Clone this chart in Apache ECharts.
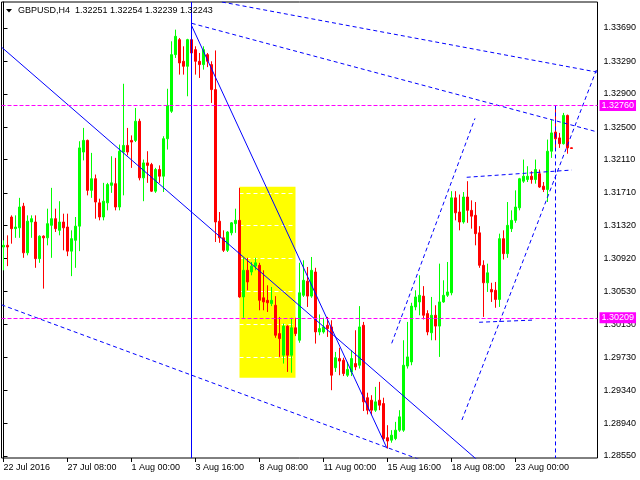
<!DOCTYPE html>
<html><head><meta charset="utf-8">
<script src="https://cdn.jsdelivr.net/npm/echarts@6/dist/echarts.min.js"></script>
<style>html,body{margin:0;padding:0;background:#fff}#c{width:640px;height:480px}</style>
</head><body><div id="c"></div>
<script>
const symbolName = 'GBPUSD', timeframe = 'H4';
const open = [1.3106,1.3108,1.3142,1.3128,1.3129,1.3155,1.3099,1.3136,1.3136,1.3092,
1.3119,1.3117,1.3132,1.3140,1.3126,1.3136,1.3130,1.3101,1.3114,1.3131,
1.3220,1.3234,1.3174,1.3188,1.3159,1.3142,1.3159,1.3180,1.3182,1.3154,
1.3220,1.3228,1.3234,1.3234,1.3257,1.3189,1.3207,1.3205,1.3173,1.3199,
1.3191,1.3236,1.3269,1.3337,1.3355,1.3329,1.3323,1.3355,1.3343,1.3329,
1.3325,1.3337,1.3325,1.3295,1.3137,1.3117,1.3102,1.3123,1.3134,1.3138,
1.3046,1.3078,1.3076,1.3083,1.3084,1.3045,1.3042,1.3038,1.3036,1.3002,
1.2976,1.3011,1.2976,1.3009,1.2994,1.3048,1.3065,1.3047,1.3076,1.3004,
1.3004,1.3012,1.3010,1.2961,1.2972,1.2970,1.2952,1.2956,1.2966,1.2964,
1.3012,1.2925,1.2922,1.2910,1.2922,1.2918,1.2877,1.2874,1.2876,1.2886,
1.2886,1.2963,1.2968,1.3034,1.3040,1.3047,1.3026,1.3003,1.3024,1.3011,
1.3040,1.3048,1.3051,1.3165,1.3148,1.3136,1.3166,1.3150,1.3144,1.3123,
1.3084,1.3063,1.3055,1.3054,1.3043,1.3116,1.3098,1.3128,1.3138,1.3153,
1.3185,1.3187,1.3191,1.3187,1.3194,1.3179,1.3175,1.3221,1.3244,1.3237,
1.3230,1.3264,1.32251];
const close = [1.3108,1.3106,1.3128,1.3130,1.3154,1.3099,1.3137,1.3140,1.3092,1.3119,
1.3117,1.3134,1.3140,1.3128,1.3136,1.3129,1.3101,1.3116,1.3131,1.3225,
1.3234,1.3174,1.3188,1.3160,1.3142,1.3161,1.3181,1.3183,1.3154,1.3221,
1.3228,1.3220,1.3232,1.3257,1.3189,1.3207,1.3204,1.3173,1.3199,1.3191,
1.3236,1.3276,1.3337,1.3359,1.3327,1.3323,1.3355,1.3339,1.3329,1.3325,
1.3343,1.3329,1.3295,1.3136,1.3117,1.3102,1.3124,1.3135,1.3138,1.3046,
1.3078,1.3064,1.3083,1.3087,1.3042,1.3040,1.3039,1.3042,1.3000,1.2996,
1.3011,1.2976,1.3009,1.3002,1.3051,1.3066,1.3047,1.3078,1.3004,1.3008,
1.3010,1.3008,1.2952,1.2973,1.2969,1.2954,1.2959,1.2972,1.2962,1.3010,
1.2920,1.2910,1.2910,1.2920,1.2916,1.2876,1.2873,1.2880,1.2886,1.2902,
1.2964,1.2974,1.3035,1.3046,1.3048,1.3024,1.3004,1.3024,1.3011,1.3040,
1.3048,1.3052,1.3165,1.3147,1.3136,1.3166,1.3150,1.3143,1.3122,1.3084,
1.3063,1.3075,1.3052,1.3043,1.3116,1.3098,1.3132,1.3138,1.3154,1.3188,
1.3191,1.3191,1.3187,1.3199,1.3178,1.3175,1.3221,1.3243,1.3236,1.3230,
1.3264,1.3225,1.32243];
const low = [1.3078,1.3083,1.3110,1.3117,1.3117,1.3093,1.3096,1.3117,1.3081,1.3087,
1.3056,1.3108,1.3093,1.3124,1.3120,1.3102,1.3095,1.3071,1.3081,1.3101,
1.3210,1.3168,1.3165,1.3140,1.3138,1.3138,1.3150,1.3171,1.3150,1.3150,
1.3168,1.3216,1.3201,1.3232,1.3186,1.3161,1.3183,1.3172,1.3171,1.3183,
1.3172,1.3223,1.3267,1.3333,1.3313,1.3313,1.3287,1.3283,1.3313,1.3309,
1.3319,1.3322,1.3279,1.3112,1.3111,1.3100,1.3100,1.3120,1.3123,1.3045,
1.3021,1.3054,1.3072,1.3078,1.3030,1.3030,1.3028,1.3035,1.2997,1.2974,
1.2966,1.2956,1.2955,1.2999,1.2991,1.3046,1.3034,1.3045,1.2990,1.3000,
1.3002,1.2998,1.2934,1.2956,1.2952,1.2951,1.2950,1.2951,1.2958,1.2960,
1.2909,1.2905,1.2904,1.2908,1.2910,1.2873,1.2864,1.2871,1.2874,1.2884,
1.2884,1.2960,1.2964,1.3030,1.3024,1.3019,1.3000,1.2994,1.2994,1.2974,
1.3039,1.3046,1.3048,1.3138,1.3126,1.3134,1.3135,1.3128,1.3108,1.3081,
1.3022,1.3052,1.3040,1.3033,1.3034,1.3091,1.3093,1.3124,1.3135,1.3150,
1.3183,1.3184,1.3182,1.3182,1.3177,1.3172,1.3160,1.3213,1.3225,1.3225,
1.3229,1.3218,1.32239];
const high = [1.3114,1.3120,1.3144,1.3144,1.3165,1.3159,1.3144,1.3144,1.3144,1.3120,
1.3120,1.3152,1.3177,1.3152,1.3161,1.3146,1.3146,1.3126,1.3142,1.3233,
1.3249,1.3235,1.3219,1.3193,1.3164,1.3183,1.3183,1.3215,1.3213,1.3229,
1.3302,1.3249,1.3240,1.3273,1.3260,1.3211,1.3221,1.3207,1.3201,1.3204,
1.3239,1.3296,1.3353,1.3367,1.3357,1.3347,1.3356,1.3357,1.3347,1.3339,
1.3347,1.3339,1.3329,1.3342,1.3148,1.3126,1.3125,1.3136,1.3152,1.3177,
1.3093,1.3093,1.3088,1.3093,1.3087,1.3078,1.3060,1.3058,1.3047,1.3022,
1.3014,1.3012,1.3021,1.3021,1.3087,1.3090,1.3082,1.3094,1.3081,1.3025,
1.3021,1.3022,1.3018,1.2980,1.2985,1.2973,1.2968,1.2982,1.3006,1.3035,
1.3016,1.2931,1.2928,1.2938,1.2944,1.2925,1.2892,1.2886,1.2896,1.2910,
1.2994,1.3016,1.3039,1.3054,1.3072,1.3059,1.3030,1.3046,1.3036,1.3086,
1.3066,1.3088,1.3173,1.3173,1.3169,1.3172,1.3185,1.3162,1.3160,1.3131,
1.3090,1.3086,1.3063,1.3064,1.3122,1.3126,1.3160,1.3150,1.3174,1.3189,
1.3211,1.3203,1.3197,1.3211,1.3199,1.3184,1.3235,1.3259,1.3276,1.3243,
1.3267,1.3265,1.32254];

const barSlots = 149;
const timeTicks = {0:'22 Jul 2016', 16:'27 Jul 08:00', 32:'1 Aug 00:00', 48:'3 Aug 16:00', 64:'8 Aug 08:00',
  80:'11 Aug 00:00', 96:'15 Aug 16:00', 112:'18 Aug 08:00', 128:'23 Aug 00:00'};
const priceTicks = [1.33690,1.33290,1.32900,1.32500,1.32110,1.31710,1.31320,1.30920,1.30530,1.30130,1.29730,1.29340,1.28940,1.28550];
const priceMin = 1.28526, priceMax = 1.34002;
const levels = [1.32760, 1.30209];
const lastPrice = 1.32243;
// trend objects: [barIndex, price] pairs
const solidLines = [
  [[-0.5, 1.3346], [118.5, 1.2850]],
  [[46.95, 1.33726], [95.875, 1.28642]],
  [[47, priceMax], [47, priceMin]]
];
const dashedLines = [
  [[54.6, 1.34002], [148.5, 1.33159]],
  [[47.05, 1.33746], [148.5, 1.32441]],
  [[-0.5, 1.30366], [104.1, 1.28506]],
  [[97.05, 1.29903], [117.875, 1.32605]],
  [[114.6, 1.28982], [148.5, 1.33220]],
  [[115.8, 1.31897], [142.05, 1.31984]],
  [[118.9, 1.30156], [132.9, 1.30183]],
  [[138, 1.3276], [138, priceMin]]
];
const boxRange = [[59, 1.31784], [73, 1.29490]];

const FONT = '"Liberation Sans", Arial, sans-serif';
const cats = Array.from({length: barSlots}, (_, i) => String(i));
const ohlc = open.map((o, i) => [o, close[i], low[i], high[i]]);
const last = open.length - 1;
const header = `${symbolName},${timeframe}  ${open[last].toFixed(5)} ${high[last].toFixed(5)} ${low[last].toFixed(5)} ${close[last].toFixed(5)}`;

const lineSeries = (pts, type) => ({
  type: 'line', xAxisIndex: 1, yAxisIndex: 0, data: pts, symbol: 'none', showSymbol: false,
  silent: true, z: 4, clip: true, animation: false,
  lineStyle: {color: '#0000ff', width: 1, type: type}
});
const tagLabel = (bg) => ({
  show: true, position: 'end', distance: 2, formatter: (p) => p.value.toFixed(5),
  backgroundColor: bg, color: '#fff', fontSize: 9, fontFamily: FONT, padding: [1, 2, 0, 2], lineHeight: 10
});

const series = [
  {
    type: 'line', xAxisIndex: 1, yAxisIndex: 0, data: [boxRange[0]], symbol: 'none', showSymbol: false,
    lineStyle: {opacity: 0}, silent: true, animation: false,
    markArea: {silent: true, z: 1, itemStyle: {color: '#ffff00'}, data: [[{coord: boxRange[0]}, {coord: boxRange[1]}]]},
    markLine: {silent: true, z: 2, symbol: ['none', 'none'], animation: false, label: {show: false},
      lineStyle: {color: '#ffffff', type: [4, 3], width: 1},
      data: priceTicks.filter(v => v < boxRange[0][1] && v > boxRange[1][1]).map(v => [{coord: [boxRange[0][0], v]}, {coord: [boxRange[1][0], v]}])}
  },
  {
    type: 'candlestick', xAxisIndex: 0, yAxisIndex: 0, data: ohlc, barWidth: 2, z: 3, silent: true, animation: false,
    itemStyle: {color: '#00ff00', color0: '#ff0000', borderColor: '#00ff00', borderColor0: '#ff0000', borderWidth: 1}
  }
];
solidLines.forEach(l => series.push(lineSeries(l, 'solid')));
dashedLines.forEach(l => series.push(lineSeries(l, [4, 3])));
series[2].markLine = {
  silent: true, z: 5, symbol: ['none', 'none'], animation: false, precision: 5,
  data: levels.map(v => ({yAxis: v, lineStyle: {color: '#ff00ff', type: [4, 2], width: 1}, label: tagLabel('#ff00ff')}))
    .concat([{yAxis: lastPrice, lineStyle: {opacity: 0}, label: tagLabel('#000000')}])
};

const chart = echarts.init(document.getElementById('c'), null, {renderer: 'canvas'});
chart.setOption({
  animation: false,
  grid: {left: 1.5, top: 2, width: 596, height: 456, show: true, borderColor: '#000', borderWidth: 1, backgroundColor: 'transparent'},
  xAxis: [
    {type: 'category', data: cats, boundaryGap: true, gridIndex: 0,
      axisLine: {show: false},
      axisTick: {show: true, alignWithLabel: true, length: 4, interval: (i) => (i in timeTicks), lineStyle: {color: '#000'}},
      axisLabel: {interval: (i) => (i in timeTicks), formatter: (v) => timeTicks[v] || '', align: 'left', margin: 5,
        fontSize: 9, color: '#000', fontFamily: FONT, hideOverlap: false},
      splitLine: {show: false}},
    {type: 'value', min: -0.5, max: barSlots - 0.5, show: false, gridIndex: 0}
  ],
  yAxis: {type: 'value', position: 'right', min: priceMin, max: priceMax,
    axisLine: {show: true, lineStyle: {color: '#000'}},
    axisTick: {show: true, length: 4, customValues: priceTicks, lineStyle: {color: '#000'}},
    axisLabel: {customValues: priceTicks, formatter: (v) => v.toFixed(5), margin: 6, fontSize: 9, color: '#000', fontFamily: FONT},
    splitLine: {show: false}},
  graphic: [
    {type: 'polygon', shape: {points: [[6, 9], [12, 9], [9, 12.5]]}, style: {fill: '#000'}, z: 10},
    {type: 'text', left: 18, top: 6, z: 10, style: {text: header, fontSize: 9, fontFamily: FONT, fill: '#000'}}
  ],
  series: series
});
</script></body></html>
